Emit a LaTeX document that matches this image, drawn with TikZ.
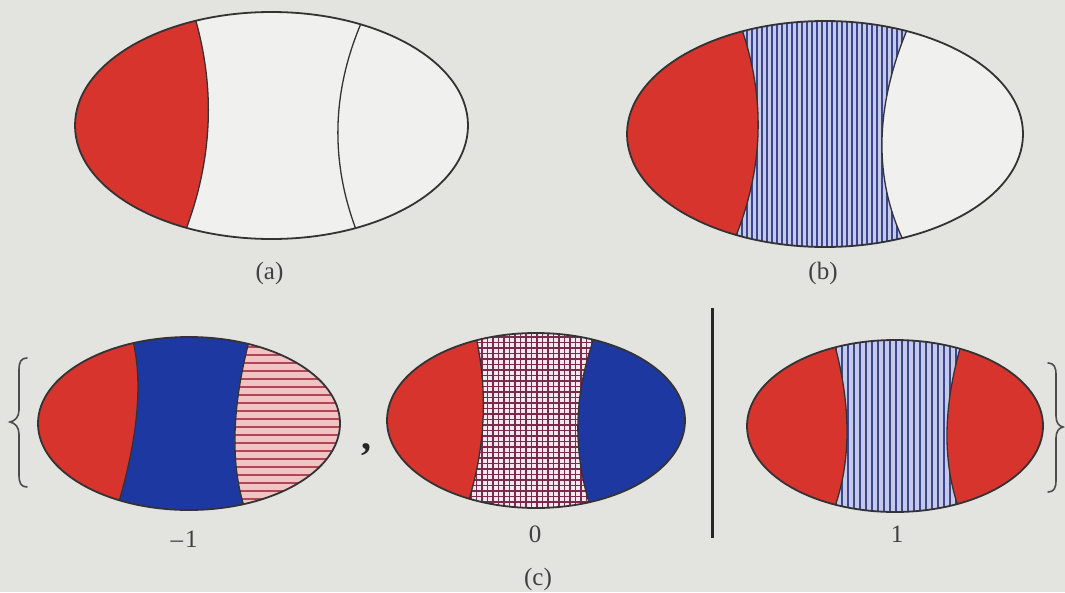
\documentclass[tikz,border=0pt]{standalone}
\usepackage{fontspec}
\setmainfont{Liberation Serif}
\usetikzlibrary{calc}
\newcommand\arcdef[4]{%
 \coordinate (#1T) at #2; \coordinate (#1M) at #3; \coordinate (#1B) at #4;
 \coordinate (#1Q) at ($2*(#1M)-0.5*(#1T)-0.5*(#1B)$);
 \coordinate (#1c) at ($(#1T)!2/3!(#1Q)$);
 \coordinate (#1d) at ($(#1B)!2/3!(#1Q)$);}
\newcommand\fwd[1]{(#1T) .. controls (#1c) and (#1d) .. (#1B)}
\newcommand\bwd[1]{(#1B) .. controls (#1d) and (#1c) .. (#1T)}
\begin{document}
\begin{tikzpicture}[x=1pt,y=-1pt,
  outl/.style={draw=black!80, line width=1.8pt},
  bnd/.style={draw=black!80, line width=1.3pt},
  redfill/.style={fill=myred},
  vstripe/.style={draw=vblue, line width=2pt},
  hstripe/.style={draw=hred, line width=2.8pt},
  xstripe/.style={draw=xred, line width=1.4pt},
  lbl/.style={font=\fontsize{25}{28}\selectfont, text=black!75, inner sep=0pt},
  brace/.style={draw=black!70, line width=1.6pt, line cap=round}]
\definecolor{myred}{HTML}{D8342E}
\definecolor{myblue}{HTML}{1E38A2}
\definecolor{vblue}{HTML}{3C4690}
\definecolor{vbg}{HTML}{C4CAE8}
\definecolor{hred}{HTML}{B04656}
\definecolor{hbg}{HTML}{F0C4C2}
\definecolor{xred}{HTML}{7C2A4A}
\definecolor{xbg}{HTML}{F6E6EE}
\definecolor{pagebg}{HTML}{E3E3DF}
\definecolor{inbg}{HTML}{F0F0EE}
\fill[pagebg] (0,0) rectangle (1065,592);
\useasboundingbox (0,0) rectangle (1065,592);
\def\ellA{(271.5,125.5) ellipse [x radius=196.5pt, y radius=113.5pt]}
\def\ellB{(825,134) ellipse [x radius=198pt, y radius=113pt]}
\def\ellC{(189,423.5) ellipse [x radius=151pt, y radius=86.5pt]}
\def\ellD{(536,420.5) ellipse [x radius=149pt, y radius=87.5pt]}
\def\ellE{(895,426) ellipse [x radius=148pt, y radius=86pt]}
\arcdef{aL}{(192,8)}{(208,125)}{(181,242)}
\arcdef{aR}{(368,8)}{(338,125)}{(361,242)}
\arcdef{bL}{(737,16)}{(758,133)}{(730,250)}
\arcdef{bR}{(913,16)}{(882,140)}{(908,250)}
\arcdef{cL}{(130,330)}{(137,410)}{(115,515)}
\arcdef{cR}{(252,330)}{(235,433)}{(247,515)}
\arcdef{dL}{(474,328)}{(483,420)}{(465,512)}
\arcdef{dR}{(598,328)}{(578,420)}{(592,512)}
\arcdef{eL}{(832,335)}{(847,433)}{(831,517)}
\arcdef{eR}{(964,335)}{(947,433)}{(962,517)}
% ---------- (a)
\begin{scope}
\clip \ellA;
\fill[inbg] \ellA;
\fill[redfill] (40,0) -- \fwd{aL} -- (40,260) -- cycle;
\draw[bnd] \fwd{aL};
\draw[bnd] \fwd{aR};
\end{scope}
\draw[outl] \ellA;
\node[lbl] (la) at (269.5,273.5) {(a)};
% ---------- (b)
\begin{scope}
\clip \ellB;
\fill[inbg] \ellB;
\fill[redfill] (600,0) -- \fwd{bL} -- (600,260) -- cycle;
\begin{scope}
\clip \fwd{bL} -- \bwd{bR} -- cycle;
\fill[vbg] (700,0) rectangle (950,260);
\foreach \x in {727,732,...,917} \draw[vstripe] (\x,10) -- (\x,255);
\end{scope}
\draw[bnd] \fwd{bL};
\draw[bnd] \fwd{bR};
\end{scope}
\draw[outl] \ellB;
\node[lbl] (lb) at (823,273) {(b)};
% ---------- (c) -1
\begin{scope}
\clip \ellC;
\fill[myblue] \ellC;
\fill[redfill] (20,320) -- \fwd{cL} -- (20,530) -- cycle;
\begin{scope}
\clip (360,320) -- \fwd{cR} -- (360,530) -- cycle;
\fill[hbg] (220,320) rectangle (360,530);
\foreach \y in {331,339,...,515} \draw[hstripe] (220,\y) -- (360,\y);
\end{scope}
\draw[bnd] \fwd{cL};
\draw[bnd] \fwd{cR};
\end{scope}
\draw[outl] \ellC;
\node[lbl] (lm1) at (184,539.5) {–\kern2pt1};
% ---------- (c) 0
\begin{scope}
\clip \ellD;
\fill[myblue] \ellD;
\fill[redfill] (370,320) -- \fwd{dL} -- (370,530) -- cycle;
\begin{scope}
\clip \fwd{dL} -- \bwd{dR} -- cycle;
\fill[xbg] (450,320) rectangle (620,530);
\foreach \x in {460,465.5,...,610} \draw[xstripe] (\x,320) -- (\x,530);
\foreach \y in {326,331.5,...,520} \draw[xstripe] (450,\y) -- (620,\y);
\end{scope}
\draw[bnd] \fwd{dL};
\draw[bnd] \fwd{dR};
\end{scope}
\draw[outl] \ellD;
\node[lbl] (l0) at (535,534.5) {0};
\node[lbl] (lc) at (538,579) {(c)};
\node[font=\fontsize{40}{40}\selectfont\bfseries, text=black!85, inner sep=0pt] (comma) at (366,450) {,};
% ---------- (c) 1
\begin{scope}
\clip \ellE;
\fill[myred] \ellE;
\begin{scope}
\clip \fwd{eL} -- \bwd{eR} -- cycle;
\fill[vbg] (820,330) rectangle (980,520);
\foreach \x in {830,836,...,970} \draw[vstripe] (\x,330) -- (\x,520);
\end{scope}
\draw[bnd] \fwd{eL};
\draw[bnd] \fwd{eR};
\end{scope}
\draw[outl] \ellE;
\node[lbl] (l1) at (897,534) {1};
% ---------- bar and braces
\coordinate (bartop) at (712,308);
\coordinate (barbot) at (712,538);
\draw[line width=3pt, black!85] (bartop) -- (barbot);
\draw[brace] (27,358) .. controls (21,358) and (19,362) .. (19,370) -- (19,410) .. controls (19,417) and (15,421) .. (10,422) .. controls (15,423) and (19,427) .. (19,434) -- (19,475) .. controls (19,483) and (21,487) .. (27,487);
\draw[brace] (1048,363) .. controls (1054,363) and (1056,367) .. (1056,375) -- (1056,416) .. controls (1056,423) and (1059,426) .. (1063,427) .. controls (1059,428) and (1056,431) .. (1056,438) -- (1056,480) .. controls (1056,488) and (1054,492) .. (1048,492);
\end{tikzpicture}
\end{document}
